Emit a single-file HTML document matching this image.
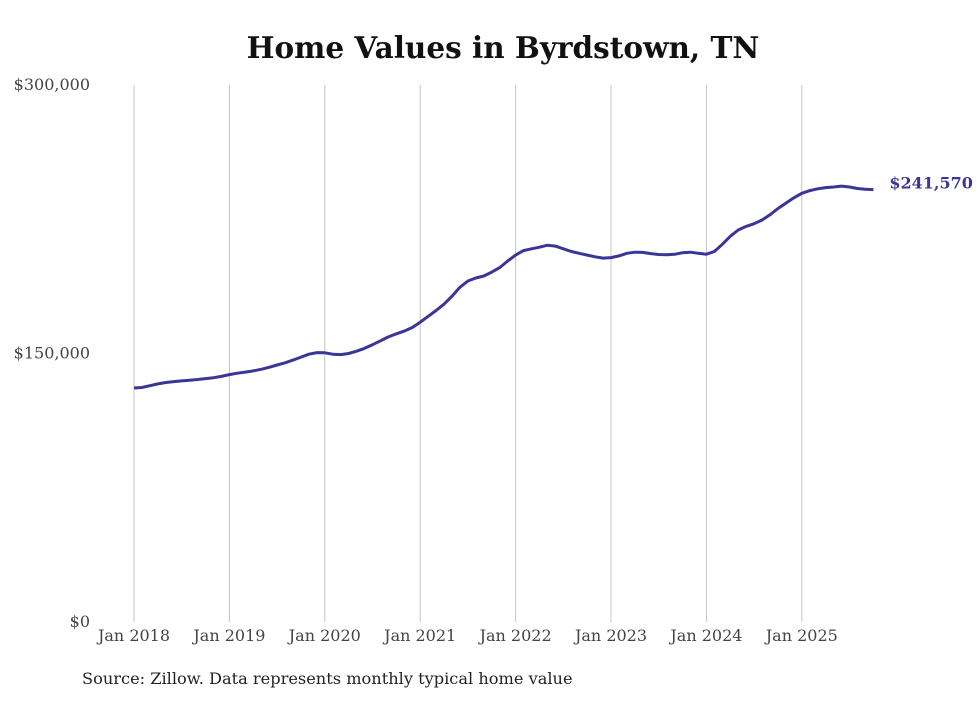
<!DOCTYPE html>
<html><head><meta charset="utf-8"><style>
body{margin:0;background:#fff;width:980px;height:699px;overflow:hidden}
svg text{font-family:"DejaVu Serif","Liberation Serif",serif}
</style></head><body>
<svg id="chart" width="980" height="699">
<text x="503" y="58" text-anchor="middle" font-size="29.5" font-weight="bold" fill="#111">Home Values in Byrdstown, TN</text>
<g id="grid"></g><g id="yt"></g><g id="xt"></g><g id="ln"></g>
<text x="82" y="684" font-size="16.2" fill="#222">Source: Zillow. Data represents monthly typical home value</text>
</svg>
<script>
const yTicks=[0,150000,300000];
const yTickLabels=["$0","$150,000","$300,000"];
const xYears=[2018,2019,2020,2021,2022,2023,2024,2025];
const values=[130.7,131,132,133,133.8,134.3,134.7,135.1,135.5,136,136.5,137.2,
138.2,139,139.6,140.3,141.2,142.3,143.6,144.8,146.3,148,149.6,150.5,
150.4,149.6,149.4,150,151.3,152.9,154.9,157.1,159.3,161,162.5,164.5,
167.5,170.8,174,177.6,182,187,190.5,192.2,193.3,195.5,198,201.7,
205,207.5,208.5,209.4,210.5,210,208.5,207,206,205,204,203.3,
203.6,204.5,206,206.6,206.5,205.8,205.3,205.2,205.4,206.3,206.6,206,
205.5,207,211,215.5,219,221,222.5,224.6,227.5,231,234,237,
239.5,241,242,242.7,243,243.5,243,242.2,241.8,241.57];
const lastLabel="$241,570";
const ns="http://www.w3.org/2000/svg";
const y=v=>622-v/300000*537;
const x=m=>134+m*95.4/12;
function mk(t,a,p){const e=document.createElementNS(ns,t);for(const k in a)e.setAttribute(k,a[k]);document.getElementById(p).appendChild(e);return e;}
xYears.forEach((yr,i)=>{
 const gx=x(i*12);
 const l=mk('line',{x1:gx,x2:gx,y1:85,y2:622,stroke:'#c4c4c4','stroke-width':1},'grid');
 
 
 const t=mk('text',{x:gx,y:641,'text-anchor':'middle','font-size':16,fill:'#444'},'xt');
 t.textContent='Jan '+yr;
 
 
});
yTicks.forEach((v,i)=>{
 const t=mk('text',{x:90,y:y(v)+5,'text-anchor':'end','font-size':16,fill:'#444'},'yt');
 t.textContent=yTickLabels[i];
 
 
});
const d=values.map((v,i)=>(i?'L':'M')+x(i).toFixed(1)+','+y(v*1000).toFixed(1)).join(' ');
const p=mk('path',{d:d,fill:'none',stroke:'#3a3596','stroke-width':3,'stroke-linejoin':'round'},'ln');


const n=values.length-1;
const lt=mk('text',{x:x(n)+16,y:y(values[n]*1000)-1,'font-size':16,'font-weight':'bold',fill:'#3a3596'},'ln');
lt.textContent=lastLabel;


</script>
</body></html>
